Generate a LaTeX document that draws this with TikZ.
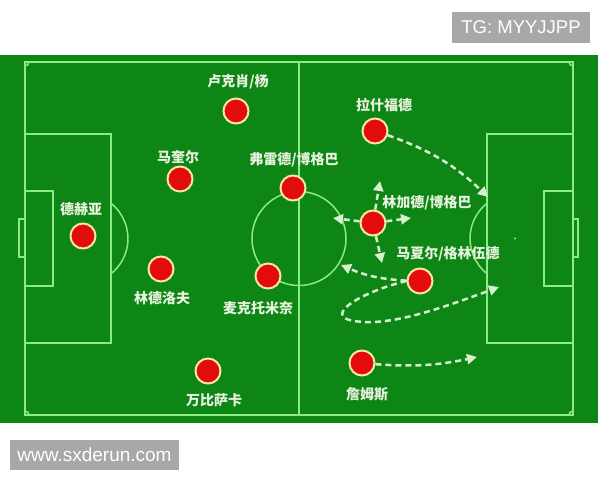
\documentclass[tikz,border=0pt]{standalone}
\usepackage{fontspec}
\setmainfont{Liberation Sans}
\newfontfamily\cjk{Noto Sans CJK SC}
\usetikzlibrary{arrows.meta}
\definecolor{pitch}{RGB}{14,134,22}
\definecolor{chalk}{RGB}{140,235,130}
\definecolor{shirt}{RGB}{226,12,12}
\definecolor{rim}{RGB}{245,230,160}
\definecolor{runclr}{RGB}{215,240,205}
\definecolor{namefg}{RGB}{232,242,222}
\definecolor{tagbg}{RGB}{168,168,168}
\begin{document}
\begin{tikzpicture}[x=1pt,y=-1pt,
    fieldline/.style={draw=chalk,line width=1.5pt},
    player/.style={circle,fill=shirt,draw=rim,line width=2pt,minimum size=25pt,inner sep=0pt},
    plabel/.style={text=namefg,font=\cjk\bfseries\fontsize{14}{14}\selectfont,inner sep=0pt},
    run/.style={draw=runclr,line width=2.5pt,dash pattern=on 6pt off 4pt,-{Triangle[length=10pt,width=10pt]}},
    tag/.style={fill=tagbg,text=white,inner sep=0pt}]
    \useasboundingbox[fill=white] (0,0) rectangle (600,480);

    % pitch
    \fill[pitch] (0,55) rectangle (598,423);
    \draw[fieldline] (25,62) rectangle (573,415);
    \draw[fieldline] (299,62) -- (299,415);
    \draw[fieldline] (299,238.5) circle (47);
    \draw[fieldline] (25,134) rectangle (111,343);
    \draw[fieldline] (25,191) rectangle (53,286);
    \draw[fieldline] (25,219) -- (19,219) -- (19,257) -- (25,257);
    \draw[fieldline] (111,203.3) arc[start angle=-51.5,end angle=51.5,radius=45];
    \draw[fieldline] (573,134) rectangle (487,343);
    \draw[fieldline] (573,191) rectangle (544,286);
    \draw[fieldline] (573,219) -- (578,219) -- (578,257) -- (573,257);
    \draw[fieldline] (487,273.7) arc[start angle=128.5,end angle=231.5,radius=45];
    \fill[chalk] (515,238.5) circle (1.2) (83,238.5) circle (1.2);
    \draw[fieldline] (29,62) arc[start angle=0,end angle=90,radius=4];
    \draw[fieldline] (569,62) arc[start angle=180,end angle=90,radius=4];
    \draw[fieldline] (29,415) arc[start angle=0,end angle=-90,radius=4];
    \draw[fieldline] (569,415) arc[start angle=180,end angle=270,radius=4];

    % players
    \node[player] (dehea) at (83,236) {};
    \node[plabel] (dehea-l) at (81,209) {德赫亚};
    \node[player] (shaw) at (236,111) {};
    \node[plabel] (shaw-l) at (238,82) {卢克肖/杨};
    \node[player] (maguire) at (180,179) {};
    \node[plabel] (maguire-l) at (178,157) {马奎尔};
    \node[player] (lindelof) at (161,269) {};
    \node[plabel] (lindelof-l) at (162,298) {林德洛夫};
    \node[player] (wanbis) at (208,371) {};
    \node[plabel] (wanbis-l) at (214,400) {万比萨卡};
    \node[player] (fred) at (293,188) {};
    \node[plabel] (fred-l) at (294,160) {弗雷德/博格巴};
    \node[player] (mctom) at (268,276) {};
    \node[plabel] (mctom-l) at (258,308) {麦克托米奈};
    \node[player] (rash) at (375,131) {};
    \node[plabel] (rash-l) at (384,105) {拉什福德};
    \node[player] (ling) at (373,223) {};
    \node[plabel] (ling-l) at (427,203) {林加德/博格巴};
    \node[player] (mart) at (420,281) {};
    \node[plabel] (mart-l) at (448,254) {马夏尔/格林伍德};
    \node[player] (james) at (362,363) {};
    \node[plabel] (james-l) at (367,394) {詹姆斯};

    % runs
    \coordinate (rash-end) at (488,197);
    \coordinate (ling-up) at (380,181);
    \coordinate (ling-left) at (333,218);
    \coordinate (ling-right) at (411,218);
    \coordinate (ling-down) at (382,263);
    \coordinate (mart-left) at (341,265);
    \coordinate (mart-end) at (499,287);
    \coordinate (james-end) at (477,357);
    \draw[run] (rash) to[bend left=12] (rash-end);
    \draw[run] (ling) -- (ling-up);
    \draw[run] (ling) -- (ling-left);
    \draw[run] (ling) -- (ling-right);
    \draw[run] (ling) -- (ling-down);
    \draw[run] (mart) to[bend left=10] (mart-left);
    \draw[run] (mart.west) .. controls (360,292) and (313,320) .. (365,322)
        .. controls (400,323.5) and (450,305) .. (mart-end);
    \draw[run] (james) to[bend right=8] (james-end);

    % watermarks
    \node[tag,minimum width=138pt,minimum height=31pt,font=\fontsize{18.5}{18.5}\selectfont] (tg) at (521,27) {TG: MYYJJPP};
    \node[tag,minimum width=169pt,minimum height=30pt,font=\fontsize{19}{19}\selectfont] (site) at (94.5,455) {www.sxderun.com};
\end{tikzpicture}
\end{document}
